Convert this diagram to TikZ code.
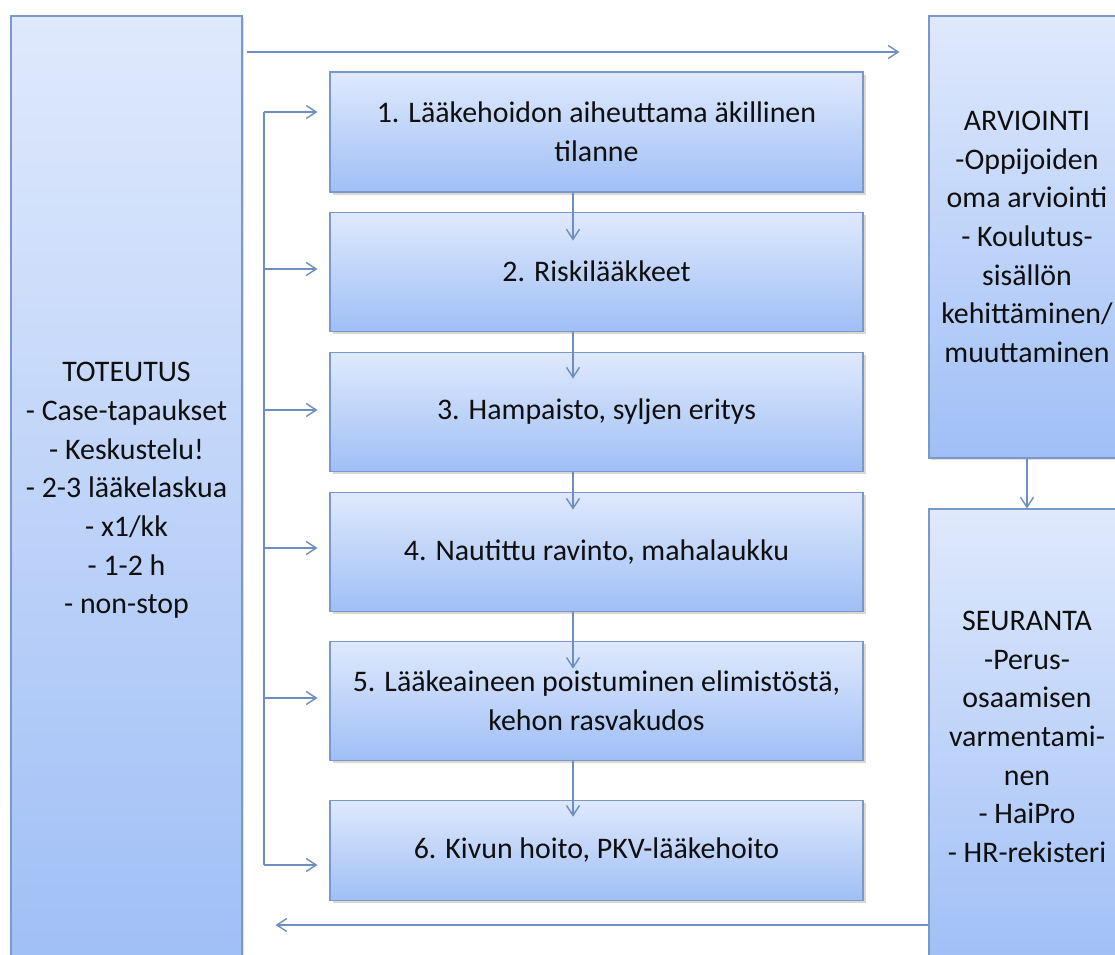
\documentclass[tikz,border=0pt]{standalone}
\usepackage{fontspec}
\setmainfont{Carlito}
\usetikzlibrary{positioning,arrows.meta,calc,shadows}
\definecolor{edgeblue}{RGB}{122,152,200}
\definecolor{lineblue}{RGB}{110,142,192}
\definecolor{filltop}{RGB}{223,233,252}
\definecolor{fillbot}{RGB}{160,191,246}
\definecolor{txt}{RGB}{15,15,15}
\tikzset{
  stage/.style={draw=edgeblue, top color=filltop, bottom color=fillbot, line width=0.6pt, minimum width=10.66cm, text=txt, align=center, inner sep=2pt, drop shadow={shadow xshift=0.06cm, shadow yshift=-0.06cm, opacity=0.3}},
  side/.style={draw=edgeblue, top color=filltop, bottom color=fillbot, line width=0.6pt, text=txt, align=center, inner sep=2pt, drop shadow={shadow xshift=0.04cm, shadow yshift=-0.04cm, opacity=0.25}},
  fl/.style={-{Straight Barb[length=2mm,width=2.6mm]}, lineblue, line width=0.8pt},
  ln/.style={lineblue, line width=0.8pt},
}

\begin{document}
\begin{tikzpicture}[font=\fontsize{17}{22}\selectfont]
\useasboundingbox (0,0) rectangle (22.3,-19.1);
\fill[white] (0,0) rectangle (22.3,-19.1);
\clip (0,0) rectangle (22.3,-19.1);
% side columns
\node[side, minimum width=4.62cm, minimum height=18.98cm] (tot) at (2.53,-9.81)
  {TOTEUTUS\\- Case-tapaukset\\- Keskustelu!\\- 2-3 lääkelaskua\\- x1/kk\\- 1-2 h\\- non-stop};
\node[side, minimum width=3.92cm, minimum height=8.84cm] (arv) at (20.54,-4.74)
  {ARVIOINTI\\-Oppijoiden\\oma arviointi\\- Koulutus-\\sisällön\\kehittäminen/\\muuttaminen};
\node[side, minimum width=3.92cm, minimum height=9.12cm] (sea) at (20.54,-14.74)
  {SEURANTA\\-Perus-\\osaamisen\\varmentami-\\nen\\- HaiPro\\- HR-rekisteri};
% the six themes
\node[stage, minimum height=2.4cm] (b1) at (11.93,-2.64) {1. Lääkehoidon aiheuttama äkillinen\\tilanne};
\node[stage, minimum height=2.38cm, below=0.38cm of b1] (b2) {2. Riskilääkkeet};
\node[stage, minimum height=2.38cm, below=0.4cm of b2] (b3) {3. Hampaisto, syljen eritys};
\node[stage, minimum height=2.38cm, below=0.4cm of b3] (b4) {4. Nautittu ravinto, mahalaukku};
\node[stage, minimum height=2.38cm, below=0.58cm of b4] (b5) {5. Lääkeaineen poistuminen elimistöstä,\\kehon rasvakudos};
\node[stage, minimum height=2.0cm, below=0.78cm of b5] (b6) {6. Kivun hoito, PKV-lääkehoito};
% arrows
\coordinate (va) at (11.46,0);
\foreach \a/\b/\d in {1/2/0.58, 2/3/0.54, 3/4/0.36, 4/5/0.56, 5/6/0.34}
  \draw[fl] (b\a.south -| va) -- ($(b\b.north -| va)+(0,-\d)$);
\foreach \i/\y in {1/-2.24, 2/-5.38, 3/-8.20, 4/-10.96, 5/-13.96, 6/-17.30}
  \coordinate (k\i) at (5.28,\y);
\draw[ln] (k1) -- (k6);
\foreach \i in {1,...,6}
  \draw[fl, shorten >=0.24cm] (k\i) -- (k\i -| b\i.west);
\coordinate (ty) at (0,-1.04);
\coordinate (by) at (0,-18.5);
\draw[fl, shorten <=0.08cm, shorten >=0.58cm] (tot.east |- ty) -- (arv.west |- ty);
\draw[fl, shorten >=0.66cm] (sea.west |- by) -- (tot.east |- by);
\draw[fl] (arv.south) -- (sea.north);
\end{tikzpicture}
\end{document}
